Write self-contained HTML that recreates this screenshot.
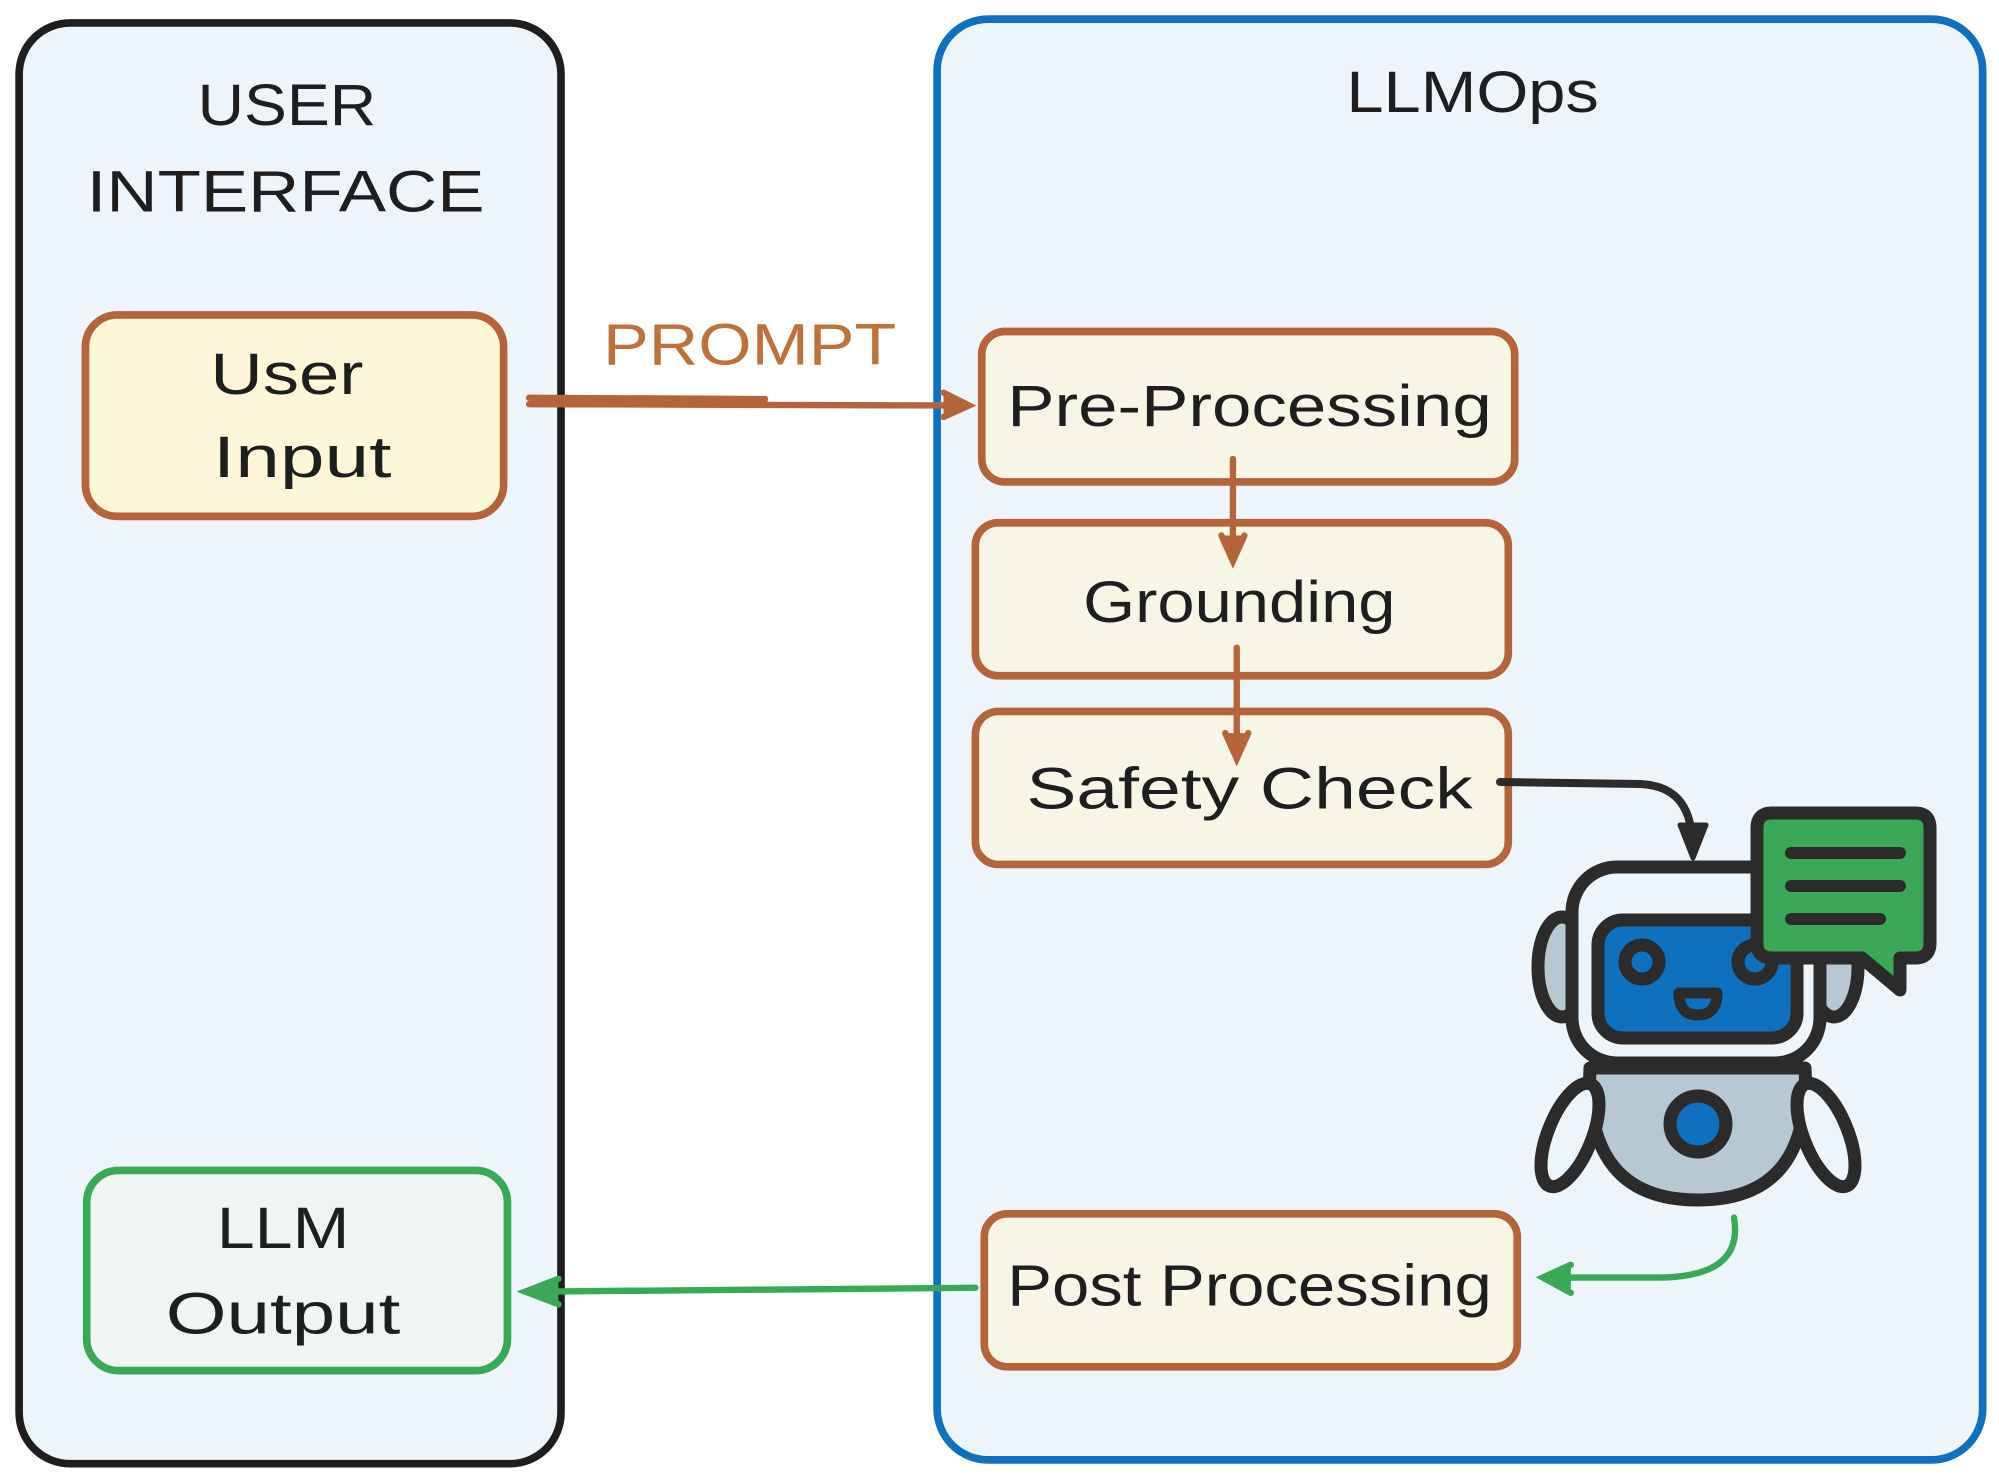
<!DOCTYPE html>
<html><head><style>html,body{margin:0;padding:0;background:#fff}svg{display:block}</style></head>
<body>
<svg width="1999" height="1481" viewBox="0 0 1999 1481" xmlns="http://www.w3.org/2000/svg">
<g transform="scale(1.275)" font-family="'Liberation Sans', sans-serif" fill="#1e1e1e">
  <rect x="15" y="18" width="425" height="1130" rx="40" fill="#edf5fb" stroke="#1e1e1e" stroke-width="6"/>
  <rect x="735" y="15" width="820" height="1130" rx="40" fill="#edf5fb" stroke="#1070c0" stroke-width="6"/>
  <g font-size="46" text-anchor="middle" lengthAdjust="spacingAndGlyphs">
    <text x="225" y="98" textLength="140" lengthAdjust="spacingAndGlyphs">USER</text>
    <text x="224" y="166" textLength="312" lengthAdjust="spacingAndGlyphs">INTERFACE</text>
    <text x="1155" y="88" textLength="198" lengthAdjust="spacingAndGlyphs">LLMOps</text>
    <text x="588" y="286" fill="#c0703a" textLength="230" lengthAdjust="spacingAndGlyphs">PROMPT</text>
  </g>
  <rect x="67" y="247" width="328" height="158" rx="25" fill="#fdf6d8" stroke="#b4643a" stroke-width="6"/>
  <g font-size="46" text-anchor="middle">
    <text x="225" y="309" textLength="120" lengthAdjust="spacingAndGlyphs">User</text>
    <text x="237" y="374" textLength="140" lengthAdjust="spacingAndGlyphs">Input</text>
  </g>
  <rect x="68" y="918" width="330" height="157" rx="25" fill="#eef5f2" stroke="#3aa857" stroke-width="6"/>
  <g font-size="46" text-anchor="middle">
    <text x="222" y="979" textLength="104" lengthAdjust="spacingAndGlyphs">LLM</text>
    <text x="222" y="1046" textLength="184" lengthAdjust="spacingAndGlyphs">Output</text>
  </g>
  <g fill="#f7f5e6" stroke="#b4643a" stroke-width="6">
    <rect x="770" y="260" width="418" height="118" rx="18"/>
    <rect x="765" y="410" width="418" height="120" rx="18"/>
    <rect x="765" y="558" width="418" height="120" rx="18"/>
    <rect x="772" y="952" width="418" height="120" rx="18"/>
  </g>
  <g font-size="46" text-anchor="middle">
    <text x="980" y="334" textLength="380" lengthAdjust="spacingAndGlyphs">Pre-Processing</text>
    <text x="972" y="488" textLength="245" lengthAdjust="spacingAndGlyphs">Grounding</text>
    <text x="980" y="634" textLength="350" lengthAdjust="spacingAndGlyphs">Safety Check</text>
    <text x="980" y="1024" textLength="380" lengthAdjust="spacingAndGlyphs">Post Processing</text>
  </g>
  <g stroke="#b4643a" stroke-width="5" fill="none" stroke-linecap="round">
    <path d="M415 317 L745 318" />
    <path d="M415 312 L600 313"/>
    <path d="M740 308 L760 318 L740 327" fill="#b4643a"/>
    <path d="M967 360 L967 425"/>
    <path d="M958 420 L967 440 L976 420" fill="#b4643a"/>
    <path d="M970 508 L970 580"/>
    <path d="M961 575 L970 595 L979 575" fill="#b4643a"/>
  </g>
  <g stroke="#3aa857" stroke-width="5" fill="none" stroke-linecap="round">
    <path d="M765 1010 L425 1013"/>
    <path d="M438 1003 L412 1013 L438 1023" fill="#3aa857"/>
    <path d="M1360 955 Q1368 1002 1300 1002 L1215 1002"/>
    <path d="M1232 992 L1210 1002 L1232 1014" fill="#3aa857"/>
  </g>
</g>
<g stroke="#2b2b2b" stroke-width="13" stroke-linecap="round" stroke-linejoin="round">
  <path d="M1500 782 L1640 784 Q1690 786 1692 840" fill="none" stroke-width="8"/>
  <path d="M1680 825 L1693 858 L1706 825 Z" fill="#2b2b2b" stroke-width="5"/>
  <ellipse cx="1562" cy="967" rx="24" ry="50" fill="#b8c8d2"/>
  <ellipse cx="1834" cy="967" rx="24" ry="50" fill="#b8c8d2"/>
  <path d="M1590 1068 L1805 1068 Q1812 1200 1698 1200 Q1584 1200 1590 1068 Z" fill="#b8c8d2"/>
  <ellipse cx="1570" cy="1135" rx="22" ry="55" transform="rotate(22 1570 1135)" fill="#edf5fb"/>
  <ellipse cx="1826" cy="1135" rx="22" ry="55" transform="rotate(-22 1826 1135)" fill="#edf5fb"/>
  <circle cx="1698" cy="1124" r="28" fill="#1070c0"/>
  <rect x="1572" y="867" width="248" height="196" rx="45" fill="#edf5fb"/>
  <rect x="1598" y="920" width="199" height="118" rx="25" fill="#1070c0"/>
  <circle cx="1642" cy="962" r="17" fill="#1070c0"/>
  <circle cx="1755" cy="962" r="17" fill="#1070c0"/>
  <path d="M1679 993 L1717 993 Q1717 1015 1698 1015 Q1679 1015 1679 993 Z" fill="#1070c0" stroke-width="11"/>
  <path d="M1772 813 L1915 813 Q1930 813 1930 828 L1930 943 Q1930 958 1915 958 L1900 958 L1900 990 L1862 958 L1772 958 Q1757 958 1757 943 L1757 828 Q1757 813 1772 813 Z" fill="#3aa857"/>
  <path d="M1791 853 L1900 853 M1791 886 L1900 886 M1791 919 L1880 919" fill="none" stroke-width="12"/>
</g>
</svg>
</body></html>
